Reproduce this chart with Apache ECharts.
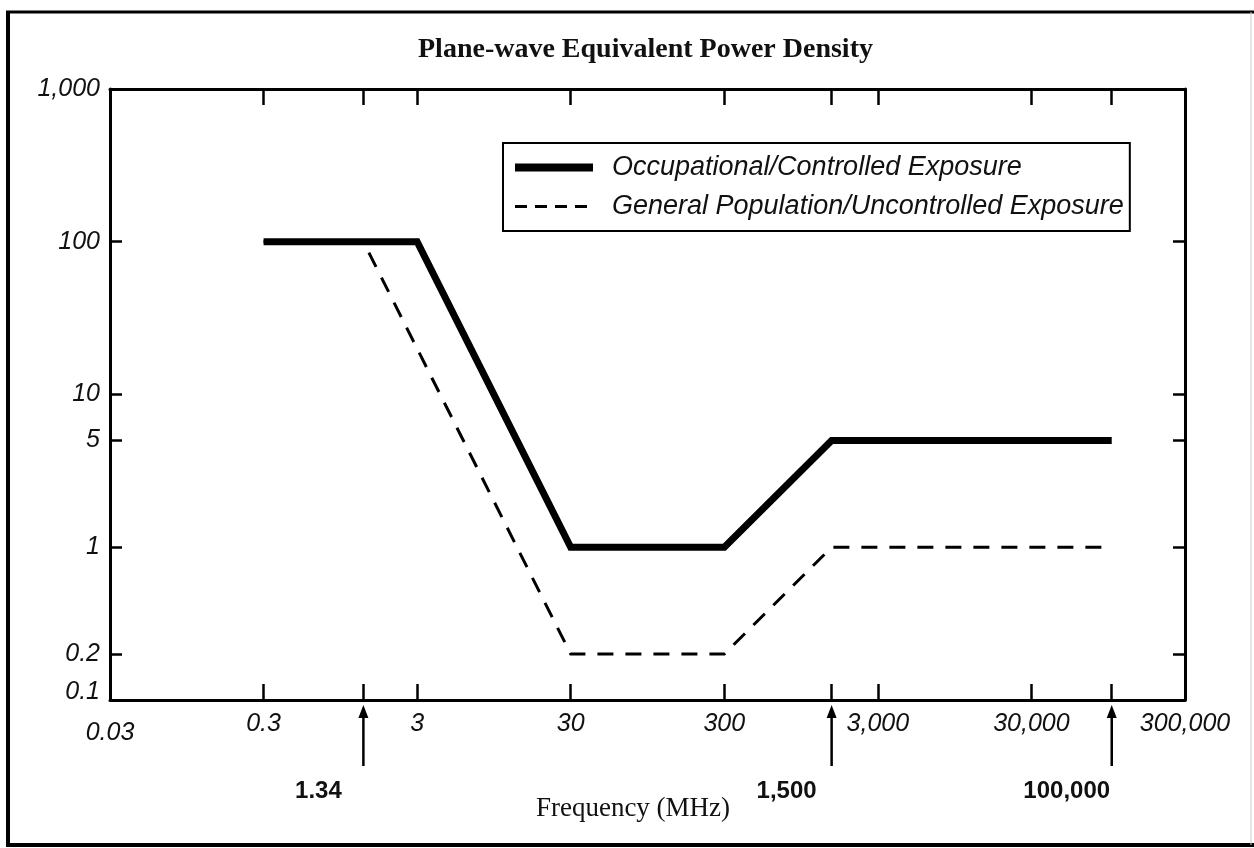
<!DOCTYPE html>
<html><head><meta charset="utf-8">
<script src="https://cdn.jsdelivr.net/npm/echarts@6/dist/echarts.min.js"></script>
<style>html,body{margin:0;padding:0;background:#fff}#c{width:1254px;height:848px}</style>
</head><body><div id="c"></div>
<script>
// ---- data ----
const freqOcc = [0.3, 3, 30, 300, 1500, 100000];
const densOcc = [100, 100, 1, 1, 5, 5];
const freqGen = [0.3, 1.34, 30, 300, 1500, 100000];
const densGen = [100, 100, 0.2, 0.2, 1, 1];
const xTickValues = [0.3, 1.34, 3, 30, 300, 1500, 3000, 30000, 100000];
const xLabelValues = [0.03, 0.3, 3, 30, 300, 3000, 30000, 300000];
const yTickValues = [0.2, 1, 5, 10, 100];
const yLabelValues = [0.1, 0.2, 1, 5, 10, 100, 1000];
const arrowValues = [1.34, 1500, 100000];
const arrowLabels = ['1.34', '1,500', '100,000'];
const seriesNames = ['Occupational/Controlled Exposure', 'General Population/Uncontrolled Exposure'];
const titleText = 'Plane-wave Equivalent Power Density';
const xName = 'Frequency (MHz)';

function fmt(v) {
  const n = +(+v).toPrecision(6);
  const s = String(n);
  return n >= 1000 ? s.replace(/\B(?=(\d{3})+(?!\d))/g, ',') : s;
}

const SANS = '"Liberation Sans", Arial, sans-serif';
const SERIF = '"Liberation Serif", "Times New Roman", serif';
const labelFont = { fontFamily: SANS, fontStyle: 'italic', fontSize: 25, color: '#111' };

const chart = echarts.init(document.getElementById('c'), null, { renderer: 'canvas' });

const axisLineStyle = { show: true, lineStyle: { color: '#000', width: 3 } };

function xAxisCfg(pos, showLabel) {
  return {
    type: 'log', logBase: 10, min: 0.03, max: 300000, position: pos,
    axisLine: axisLineStyle,
    axisTick: { show: true, inside: true, length: 16, customValues: xTickValues, lineStyle: { color: '#000', width: 2.5 } },
    axisLabel: showLabel ? {
      show: true, margin: 12, customValues: xLabelValues,
      formatter: v => (+v === 0.03 ? '{low|' + fmt(v) + '}' : fmt(v)),
      ...labelFont,
      rich: { low: { ...labelFont, padding: [9, 0, 0, 0] } }
    } : { show: false },
    splitLine: { show: false }, minorTick: { show: false },
    name: showLabel ? xName : '',
    nameLocation: 'middle', nameGap: 95,
    nameTextStyle: { fontFamily: SERIF, fontSize: 27, color: '#111', padding: [0, 29, 0, 0] }
  };
}
function yAxisCfg(pos, showLabel) {
  return {
    type: 'log', logBase: 10, min: 0.1, max: 1000, position: pos,
    axisLine: axisLineStyle,
    axisTick: { show: true, inside: true, length: 12, customValues: yTickValues, lineStyle: { color: '#000', width: 2.5 } },
    axisLabel: showLabel ? {
      show: true, margin: 10, customValues: yLabelValues,
      formatter: v => (+v === 0.1 ? '{up|' + fmt(v) + '}' : fmt(v)),
      ...labelFont,
      rich: { up: { ...labelFont, padding: [0, 0, 16, 0] } }
    } : { show: false },
    splitLine: { show: false }, minorTick: { show: false }
  };
}

const option = {
  animation: false,
  backgroundColor: '#fff',
  title: {
    text: titleText, left: 413, top: 31,
    textStyle: { fontFamily: SERIF, fontWeight: 'bold', fontSize: 28, color: '#111' }
  },
  grid: { left: 110, right: 69, top: 89, bottom: 148, containLabel: false, outerBoundsMode: 'none' },
  legend: {
    orient: 'vertical', left: 503, top: 143,
    padding: [8, 6, 8, 8],
    borderColor: '#000', borderWidth: 2,
    itemWidth: 78, itemHeight: 14, itemGap: 6,
    data: [
      { name: seriesNames[0], itemStyle: { opacity: 0 }, lineStyle: { color: '#000', width: 8, type: 'solid', cap: 'butt' } },
      { name: seriesNames[1], itemStyle: { opacity: 0 }, lineStyle: { color: '#000', width: 3, type: [12, 8], cap: 'butt' } }
    ],
    textStyle: { fontFamily: SANS, fontStyle: 'italic', fontSize: 27, color: '#111', lineHeight: 33, padding: [0, 0, 0, 14] }
  },
  xAxis: [xAxisCfg('bottom', true), xAxisCfg('top', false)],
  yAxis: [yAxisCfg('left', true), yAxisCfg('right', false)],
  series: [
    {
      name: seriesNames[0], type: 'line', xAxisIndex: 0, yAxisIndex: 0,
      symbol: 'none', showSymbol: false,
      data: freqOcc.map((f, i) => [f, densOcc[i]]),
      lineStyle: { color: '#000', width: 7, join: 'miter', cap: 'butt' },
      itemStyle: { color: '#000' }
    },
    {
      name: seriesNames[1], type: 'line', xAxisIndex: 0, yAxisIndex: 0,
      symbol: 'none', showSymbol: false,
      data: freqGen.map((f, i) => [f, densGen[i]]),
      lineStyle: { color: '#000', width: 3, type: [16, 12], join: 'miter', cap: 'butt' },
      itemStyle: { color: '#000' }
    }
  ]
};
chart.setOption(option);

// annotation arrows, positioned through the x axis scale
const graphics = [];
arrowValues.forEach((v, i) => {
  const px = chart.convertToPixel({ xAxisIndex: 0 }, v);
  graphics.push(
    { type: 'line', shape: { x1: px, y1: 714, x2: px, y2: 766 }, style: { stroke: '#000', lineWidth: 2.5 } },
    { type: 'polygon', shape: { points: [[px, 705], [px - 5, 718], [px + 5, 718]] }, style: { fill: '#000' } },
    { type: 'text', x: px - 45, y: 791, style: { text: arrowLabels[i], font: 'bold 24px "Liberation Sans", Arial, sans-serif', fill: '#111', align: 'center', verticalAlign: 'middle' } }
  );
});
// outer frame of the figure
graphics.push(
  { type: 'line', shape: { x1: 8, y1: 11, x2: 8, y2: 847 }, style: { stroke: '#000', lineWidth: 4 } },
  { type: 'line', shape: { x1: 6, y1: 12, x2: 1254, y2: 12 }, style: { stroke: '#000', lineWidth: 3 } },
  { type: 'line', shape: { x1: 6, y1: 845, x2: 1254, y2: 845 }, style: { stroke: '#000', lineWidth: 4 } },
  { type: 'line', shape: { x1: 1251, y1: 12, x2: 1251, y2: 845 }, style: { stroke: '#ccc', lineWidth: 1 } }
);
chart.setOption({ graphic: graphics });
</script>
</body></html>
